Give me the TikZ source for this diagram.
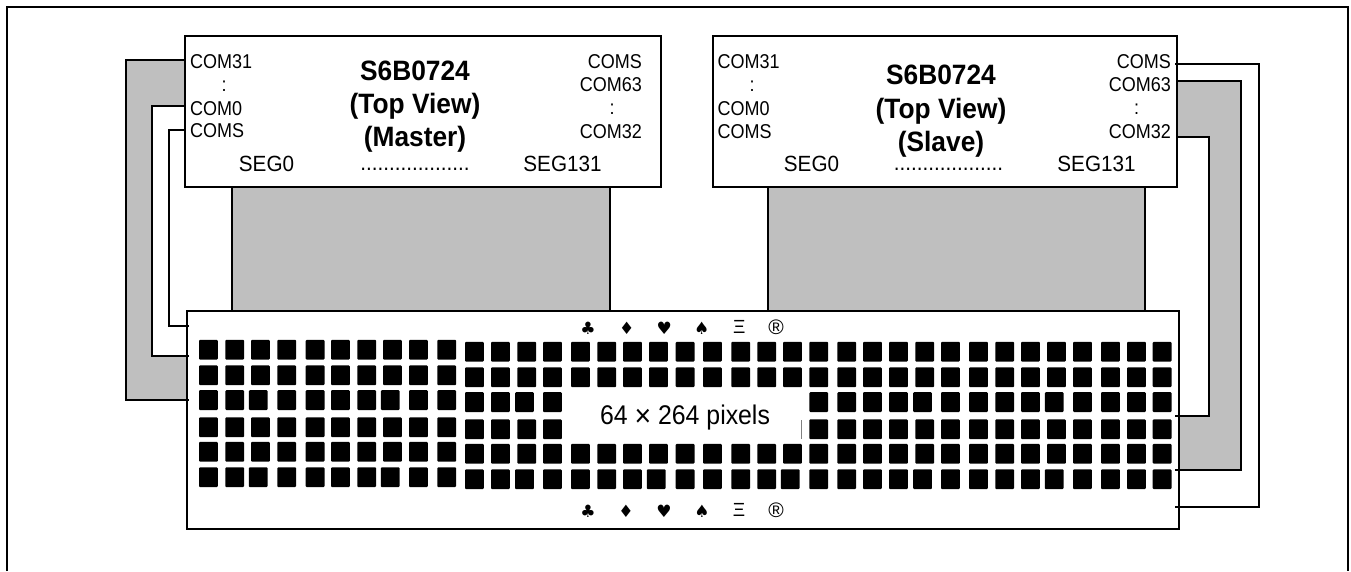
\documentclass[tikz,border=0pt]{standalone}
\usepackage{fontspec}
\setmainfont{Liberation Sans}
\newfontfamily\symfont{DejaVu Sans}
\newfontfamily\fcom[FakeStretch=0.9]{Liberation Sans}
\newfontfamily\fseg[FakeStretch=0.94]{Liberation Sans}
\newfontfamily\ftitle[FakeStretch=0.94]{Liberation Sans}
\newfontfamily\fpix[FakeStretch=0.92]{Liberation Sans}
\definecolor{bandgray}{RGB}{191,191,191}
\tikzset{
  x=1pt,y=-1pt,
  frameline/.style={line width=2pt,black},
  chipbox/.style={draw=black,line width=2pt,fill=white,inner sep=0pt,outer sep=0pt,anchor=north west},
  panelbox/.style={draw=black,line width=1.8pt,fill=white,inner sep=0pt,outer sep=0pt,anchor=north west},
  tapebox/.style={draw=black,line width=2.2pt,fill=bandgray,inner sep=0pt,outer sep=0pt,anchor=north west},
  wire/.style={line width=1.8pt,black,line join=miter},
  band/.style={fill=bandgray},
  com/.style={inner sep=0pt,font=\fontsize{20}{20}\fcom},
  seg/.style={inner sep=0pt,font=\fontsize{22}{22}\fseg},
  title/.style={inner sep=0pt,font=\fontsize{28}{28}\ftitle\bfseries},
  glyph/.style={inner sep=0pt,font=\fontsize{17}{17}\selectfont\symfont},
  glyphb/.style={inner sep=0pt,font=\fontsize{19}{19}\selectfont},
  glyphr/.style={inner sep=0pt,font=\fontsize{21}{21}\selectfont},
}
\begin{document}
\begin{tikzpicture}
\useasboundingbox (0,0) rectangle (1351,571);
% outer frame, open at the bottom
\coordinate (fa) at (7,571);
\coordinate (fb) at (7,7);
\coordinate (fc) at (1348,7);
\coordinate (fd) at (1348,571);
\draw[frameline] (fa) -- (fb) -- (fc) -- (fd);

% wire end points
\coordinate (mc31) at (185,60);
\coordinate (mc0)  at (185,106);
\coordinate (mcs)  at (185,130);
\coordinate (pl1)  at (189,326);
\coordinate (pl2)  at (189,356);
\coordinate (pl3)  at (189,400);
\coordinate (scs)  at (1175,64);
\coordinate (sc63) at (1177,81);
\coordinate (sc32) at (1177,137);
\coordinate (pr1)  at (1175,416);
\coordinate (pr2)  at (1175,470);
\coordinate (pr3)  at (1175,507);
\coordinate (lo) at (126,0);
\coordinate (li) at (152,0);
\coordinate (lc) at (169,0);
\coordinate (ri) at (1209,0);
\coordinate (ro) at (1241,0);
\coordinate (rc) at (1259,0);

% grey bands
\fill[band] (mc31) -| (lo |- pl3) -- (pl3) -- (pl2) -| (li |- mc0) -- (mc0) -- cycle;
\fill[band] (sc63) -| (ro |- pr2) -- (pr2) -- (pr1) -| (ri |- sc32) -- (sc32) -- cycle;

% tapes
\node[tapebox,minimum width=378pt,minimum height=124pt] (tapeL) at (232,187) {};
\node[tapebox,minimum width=377pt,minimum height=124pt] (tapeR) at (768,187) {};

% chips and panel
\node[chipbox,minimum width=476pt,minimum height=151pt] (master) at (185,36) {};
\node[chipbox,minimum width=464pt,minimum height=151pt] (slave) at (713,36) {};
\node[panelbox,minimum width=992pt,minimum height=218pt] (panel) at (187,311) {};

% wires
\draw[wire] (mc31) -| (lo |- pl3) -- (pl3);
\draw[wire] (mc0) -| (li |- pl2) -- (pl2);
\draw[wire] (mcs) -| (lc |- pl1) -- (pl1);
\draw[wire] (scs) -| (rc |- pr3) -- (pr3);
\draw[wire] (sc63) -| (ro |- pr2) -- (pr2);
\draw[wire] (sc32) -| (ri |- pr1) -- (pr1);

% pixels
\foreach \cx [count=\ci] in {199,225.3,251,277.3,305.7,331,357.3,383,409,437.3,465,491,517.3,543,571,597.3,623,649,675.7,703,731.3,757.3,783,809.3,837.3,863,889,915.3,941,969,995.3,1021,1047,1073,1101,1127,1152.7}{
  \foreach \ry [count=\ri] in {339.8,365.4,390.2,417.4,441.9,467.3}{
    \pgfmathsetmacro{\yy}{\ry+(\ci>10?2:0)}
    \pgfmathtruncatemacro{\shifted}{(mod(\ci,5)==3 && (\ri==3 || \ri==6)) ? 1 : 0}
    \pgfmathsetmacro{\xx}{\cx-(\shifted==1?2.2:0)}
    \pgfmathtruncatemacro{\blank}{(\ci>=15 && \ci<=23 && (\ri==3 || \ri==4)) ? 1 : 0}
    \ifnum\blank=0
      \fill[black,rounded corners=1pt] (\xx,\yy) rectangle (\xx+18.8,\yy+19.8);
    \fi
  }
}
\coordinate (ta) at (801,420);
\coordinate (tb) at (801,438.5);
\draw[gray,line width=0.6pt] (ta) -- (tb);
\node[inner sep=0pt,font=\fontsize{27}{27}\fpix] (pix) at (685,418) {64 {\fontsize{31}{31}\selectfont\raisebox{-1.5pt}{×}} 264 pixels};

% master labels
\node[com,anchor=west] (m1) at (190,61.5) {COM31};
\node[com] (m2) at (224,86) {:};
\node[com,anchor=west] (m3) at (190,108.5) {COM0};
\node[com,anchor=west] (m4) at (190,131) {COMS};
\node[com,anchor=east] (m5) at (642,62) {COMS};
\node[com,anchor=east] (m6) at (642,85) {COM63};
\node[com] (m7) at (612,109) {:};
\node[com,anchor=east] (m8) at (642,132) {COM32};
\node[seg] (m9) at (266.5,164) {SEG0};
\node[seg,anchor=base] (m10) at (415,170) {...................};
\node[seg] (m11) at (562.5,164) {SEG131};
\node[title,anchor=base] (mt1) at (415,80) {S6B0724};
\node[title,anchor=base] (mt2) at (415,113) {(Top View)};
\node[title,anchor=base] (mt3) at (415,146) {(Master)};

% slave labels
\node[com,anchor=west] (s1) at (717.5,61.5) {COM31};
\node[com] (s2) at (752,86.5) {:};
\node[com,anchor=west] (s3) at (717.5,109) {COM0};
\node[com,anchor=west] (s4) at (717.5,131.5) {COMS};
\node[com,anchor=east] (s5) at (1171,62) {COMS};
\node[com,anchor=east] (s6) at (1171,84.5) {COM63};
\node[com] (s7) at (1136.5,109) {:};
\node[com,anchor=east] (s8) at (1171,132) {COM32};
\node[seg] (s9) at (811.5,164) {SEG0};
\node[seg,anchor=base] (s10) at (948.5,170) {...................};
\node[seg] (s11) at (1096.5,164) {SEG131};
\node[title,anchor=base] (st1) at (941,84.5) {S6B0724};
\node[title,anchor=base] (st2) at (941,118) {(Top View)};
\node[title,anchor=base] (st3) at (941,151.5) {(Slave)};

% symbols
\node[glyph] (ga1) at (588,328) {♣};
\node[glyph] (ga2) at (626.7,328) {♦};
\node[glyph] (ga3) at (664.3,328) {♥};
\node[glyph] (ga4) at (701.7,328) {♠};
\node[glyphb] (ga5) at (739.3,327) {Ξ};
\node[glyphr] (ga6) at (776,327) {®};
\node[glyph] (gb1) at (588,511) {♣};
\node[glyph] (gb2) at (626,511) {♦};
\node[glyph] (gb3) at (664,511) {♥};
\node[glyph] (gb4) at (702,511) {♠};
\node[glyphb] (gb5) at (739,510) {Ξ};
\node[glyphr] (gb6) at (776,510) {®};
\end{tikzpicture}
\end{document}
